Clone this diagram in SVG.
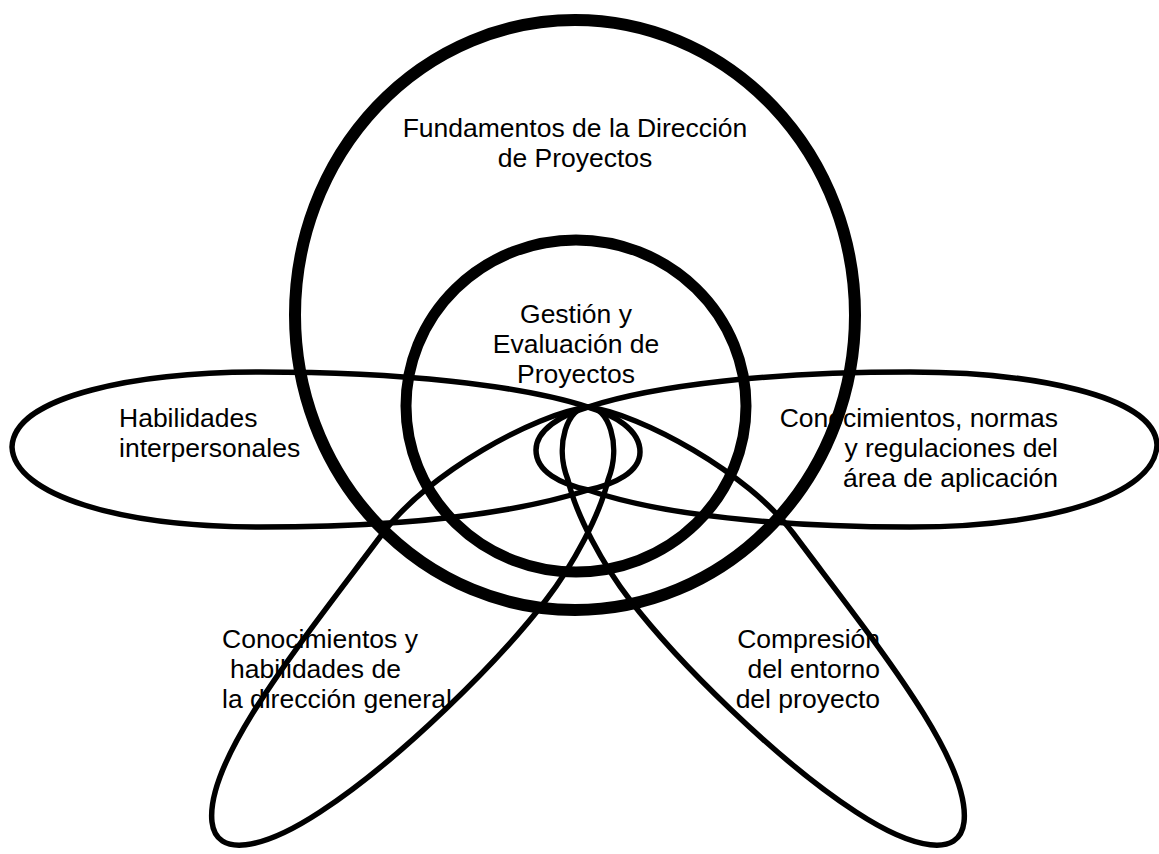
<svg xmlns="http://www.w3.org/2000/svg" width="1159" height="854" viewBox="0 0 1159 854">
  <style>
    .ring { fill: none; stroke: #000; }
    .petal { fill: none; stroke: #000; stroke-width: 5.5; stroke-linejoin: round; }
    text { font-family: "Liberation Sans", Arial, sans-serif; font-size: 26.5px; fill: #000; }
    .mid { text-anchor: middle; }
    .end { text-anchor: end; }
  </style>
  <rect width="1159" height="854" fill="#fff"/>

  <!-- left petal -->
  <g id="habilidades-interpersonales">
    <text x="119" y="427">Habilidades</text>
    <text x="119" y="457">interpersonales</text>
    <path class="petal" d="M12,447 C14,395 140,372 260,372 C400,372 520,385 588,407 C615,415 640,430 640,452 C640,472 615,484 588,490 C510,515 400,527 260,527 C120,527 14,495 12,447 Z"/>
  </g>

  <!-- right petal -->
  <g id="area-de-aplicacion">
    <text class="end" x="1058" y="427">Conocimientos, normas</text>
    <text class="end" x="1058" y="457">y regulaciones del</text>
    <text class="end" x="1058" y="487">área de aplicación</text>
    <path class="petal" d="M1157,445 C1155,395 1030,372 910,372 C770,372 656,385 588,407 C561,415 536,430 536,450 C536,472 561,484 588,490 C660,515 780,527 910,527 C1050,527 1155,495 1157,445 Z"/>
  </g>

  <!-- lower left petal -->
  <g id="direccion-general">
    <text x="222" y="648">Conocimientos y</text>
    <text x="230" y="678">habilidades de</text>
    <text x="222" y="708">la dirección general</text>
    <path class="petal" d="M588,407 C535,414 428,473 383,533 C300,644 205,760 212,822 C216,858 262,850 320,812 C400,760 500,660 546,600 C573,565 600,515 608,480 C622,445 608,406 588,407 Z"/>
  </g>

  <!-- lower right petal -->
  <g id="entorno-del-proyecto">
    <text class="end" x="880" y="648">Compresión</text>
    <text class="end" x="880" y="678">del entorno</text>
    <text class="end" x="880" y="708">del proyecto</text>
    <path class="petal" d="M588,407 C641,414 748,473 793,533 C876,644 971,760 964,822 C960,858 914,850 856,812 C776,760 676,660 630,600 C603,565 576,515 568,480 C554,445 568,406 588,407 Z"/>
  </g>

  <!-- outer ring -->
  <g id="fundamentos">
    <text class="mid" x="575" y="137">Fundamentos de la Dirección</text>
    <text class="mid" x="575" y="167">de Proyectos</text>
    <ellipse class="ring" cx="575" cy="315" rx="280" ry="295" stroke-width="12"/>
  </g>

  <!-- inner ring -->
  <g id="gestion-evaluacion">
    <text class="mid" x="576" y="323">Gestión y</text>
    <text class="mid" x="576" y="353">Evaluación de</text>
    <text class="mid" x="576" y="383">Proyectos</text>
    <ellipse class="ring" cx="576" cy="406" rx="170" ry="166" stroke-width="11"/>
  </g>
</svg>
